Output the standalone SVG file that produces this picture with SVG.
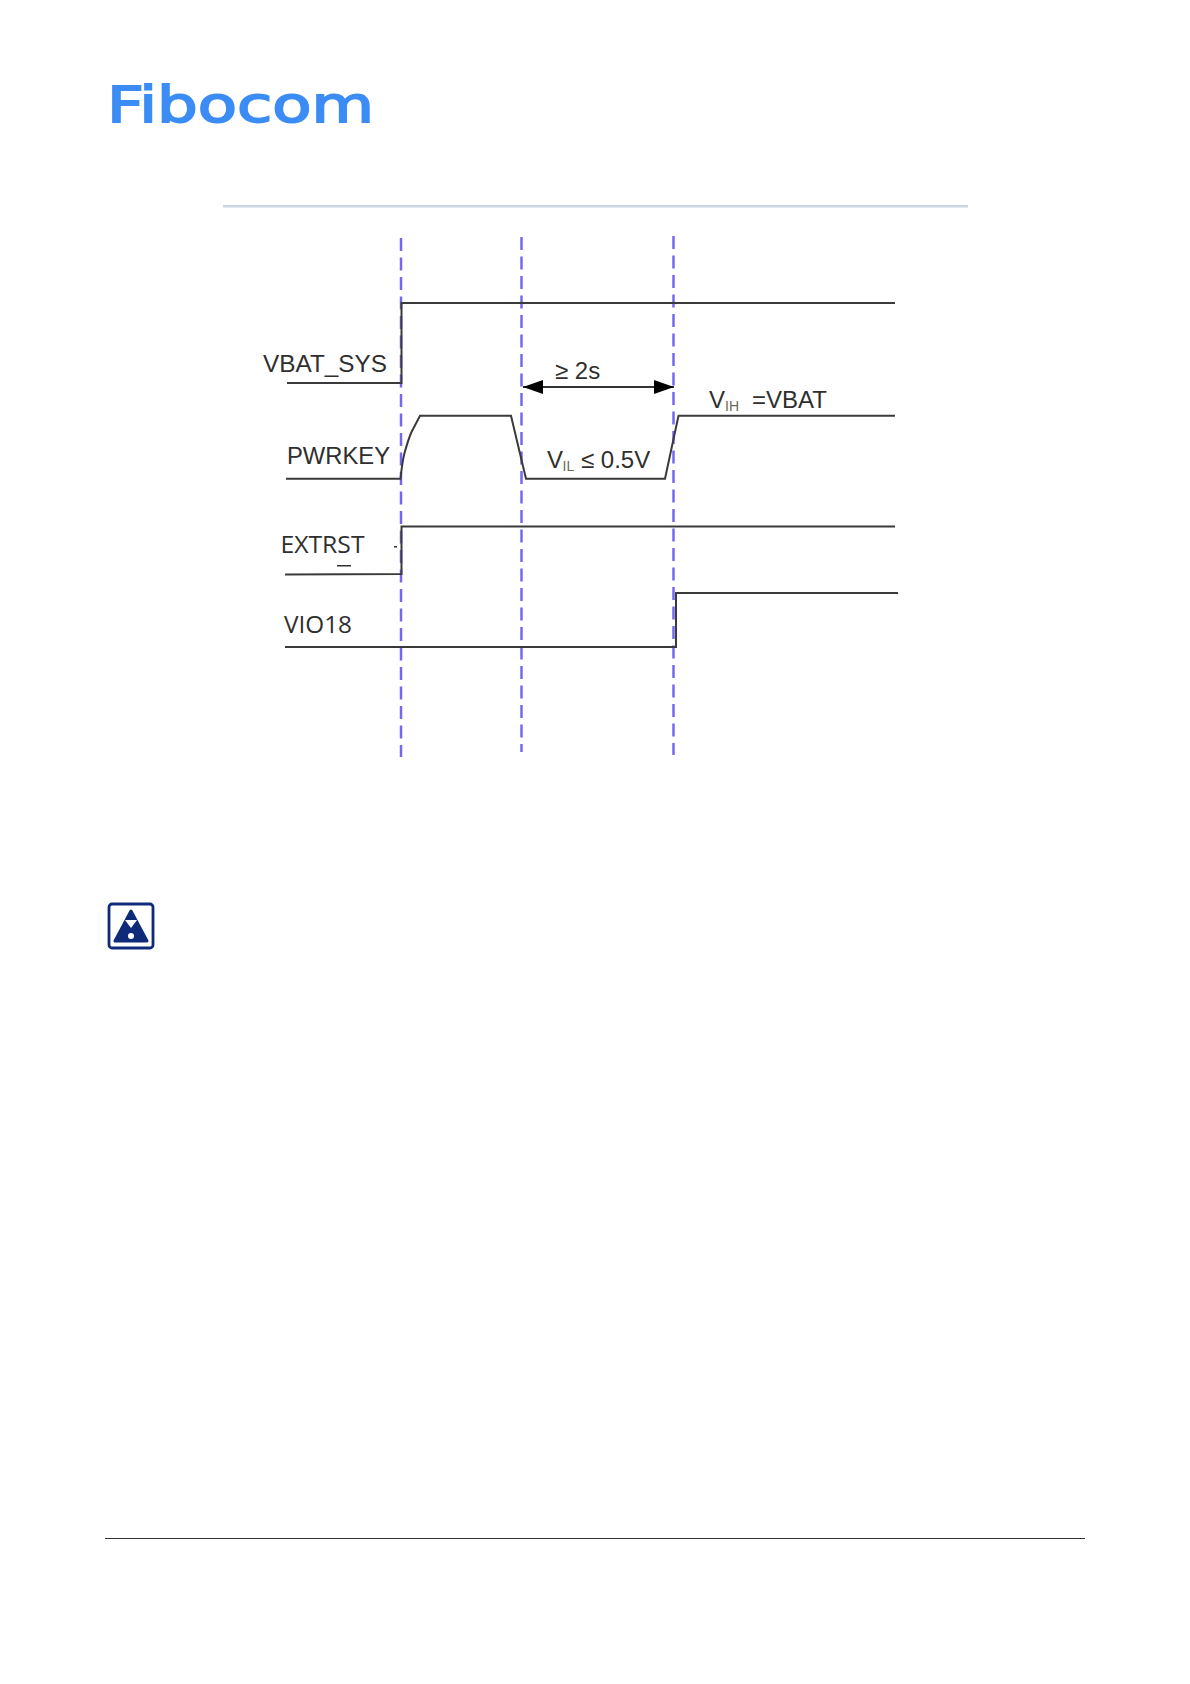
<svg xmlns="http://www.w3.org/2000/svg" width="1190" height="1684" viewBox="0 0 1190 1684">
<style>
text{font-family:"Liberation Sans",Arial,sans-serif;font-size:24px;fill:#2f2f2f}
.os{font-family:"Open Sans","Liberation Sans",sans-serif;font-size:23px}
.sub{font-size:14px;fill:#6b6b55}
.sig{fill:none;stroke:#3a3a3a;stroke-width:2;stroke-linejoin:miter}
.guide{fill:none;stroke:#7468f2;stroke-width:2.500;stroke-dasharray:13 6.500}
.arrow{fill:none;stroke:#333;stroke-width:2}
</style>
<defs>
<marker id="head" markerUnits="userSpaceOnUse" viewBox="0 0 20 14" refX="20" refY="7" markerWidth="20" markerHeight="14" orient="auto-start-reverse"><path d="M0 0L20 7L0 14Z" fill="#000"/></marker>
</defs>
<rect width="1190" height="1684" fill="#fff"/>
<g id="logo"><text x="107" y="122" textLength="267" lengthAdjust="spacingAndGlyphs" style="font-family:'DejaVu Sans',sans-serif;font-size:50px;fill:#3b8cf5;stroke:#3b8cf5;stroke-width:1.800">Fibocom</text></g>
<rect id="top-rule" x="223" y="205" width="745" height="2.500" fill="#ccd6e2"/>
<rect id="bottom-rule" x="105" y="1538" width="980" height="1" fill="#333"/>
<g id="guides">
<path class="guide" d="M401 238V757"/>
<path class="guide" d="M521.500 237V752"/>
<path class="guide" d="M673.500 236V755"/>
</g>
<g id="vbat-sys"><path class="sig" d="M287 383H401.500V303H895"/><text x="263" y="372" textLength="124" lengthAdjust="spacingAndGlyphs">VBAT_SYS</text></g>
<g id="pwrkey"><path class="sig" d="M286 478.700H400.500Q402 464 404 455Q408 440 411.500 432L420 415.700H511L526 478.700H665L678.500 415.700H895"/><text x="287" y="464" textLength="103" lengthAdjust="spacingAndGlyphs">PWRKEY</text></g>
<g id="extrst"><path class="sig" d="M285 574.500L401.500 574V526.500H895"/><text class="os" x="280.500" y="553" textLength="84" lengthAdjust="spacingAndGlyphs">EXTRST</text><rect x="337" y="565" width="14" height="1.500" fill="#333"/><rect x="394" y="546" width="3" height="1.500" fill="#333"/></g>
<g id="vio18"><path class="sig" d="M285 647H676V593H898"/><text class="os" x="284" y="633" textLength="68" lengthAdjust="spacingAndGlyphs">VIO18</text></g>
<g id="connectors"><path class="arrow" d="M523 387H674" marker-start="url(#head)" marker-end="url(#head)"/></g>
<g id="timing-label"><text x="555" y="379">≥ 2s</text></g>
<g id="vil-label"><text x="547" y="468">V</text><text class="sub" x="562.500" y="471">IL</text><text x="581" y="468">≤ 0.5V</text></g>
<g id="vih-label"><text x="709" y="408">V</text><text class="sub" x="725" y="411">IH</text><text x="752" y="408" textLength="75" lengthAdjust="spacingAndGlyphs">=VBAT</text></g>
<g id="note-icon">
<rect x="109" y="904" width="44" height="44" rx="3" fill="#fff" stroke="#0f2a78" stroke-width="2.800"/>
<path d="M131 911L147 941H115Z" fill="#0f2a78" stroke="#0f2a78" stroke-width="3" stroke-linejoin="round"/>
<path d="M125 920H137L131 928Z" fill="#fff"/>
<circle cx="131" cy="936" r="3" fill="#fff"/>
</g>
</svg>
